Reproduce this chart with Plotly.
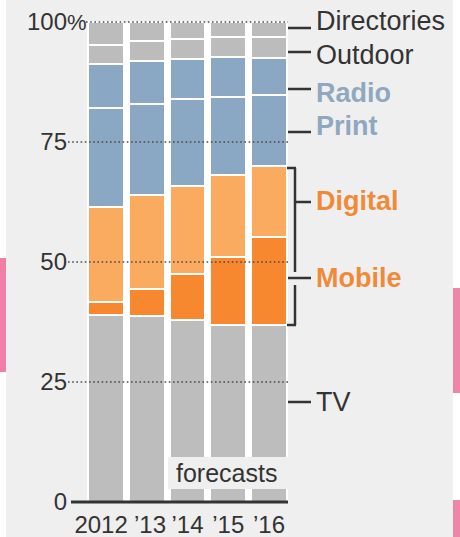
import plotly.graph_objects as go

# ---------------- data ----------------
years = ["2012", "’13", "’14", "’15", "’16"]
tv          = [39.0, 38.8, 37.9, 36.9, 36.9]
mobile      = [2.7, 5.6, 9.7, 14.2, 18.4]
digital     = [19.8, 19.6, 18.3, 17.1, 14.8]
print_ads   = [20.6, 19.0, 18.0, 16.2, 14.7]
radio       = [9.1, 8.8, 8.4, 8.4, 7.8]
outdoor     = [4.1, 4.2, 4.2, 4.0, 4.2]
directories = [4.7, 4.0, 3.5, 3.2, 3.2]
y_ticks = [0, 25, 50, 75, 100]
y_tick_text = ["0", "25", "50", "75", "100"]

series = [
    ("TV", tv, "#bdbdbd"),
    ("Mobile", mobile, "#f7882f"),
    ("Digital", digital, "#fbab60"),
    ("Print", print_ads, "#8aa8c3"),
    ("Radio", radio, "#8aa8c3"),
    ("Outdoor", outdoor, "#bcbcbc"),
    ("Directories", directories, "#bcbcbc"),
]

# ---------------- geometry helpers (pixel -> paper) ----------------
W, H = 460, 537
ML, MR, MT, MB = 73, 170, 10, 35
PW, PH = W - ML - MR, H - MT - MB
def px(x):
    return (x - ML) / PW
def py(y):
    return (H - MB - y) / PH

FONT = "Liberation Sans, Arial, sans-serif"
DARK = "#333333"
BG = "#efefef"

xs = list(range(len(years)))
label_shift = [-0.12, 0.08, 0.0, 0.0, 0.0]   # small horizontal nudges of the year labels
tick_pos = [x + s for x, s in zip(xs, label_shift)]

fig = go.Figure()
for name, vals, col in series:
    fig.add_trace(go.Bar(
        x=xs, y=vals, name=name, width=0.883,
        marker=dict(color=col, line=dict(color="white", width=2)),
        hoverinfo="skip",
    ))

shapes = []
# page edges (white margins with pink stripes)
shapes.append(dict(type="rect", xref="paper", yref="paper", x0=px(0), x1=px(6), y0=py(0), y1=py(H),
                   fillcolor="white", line_width=0, layer="below"))
shapes.append(dict(type="rect", xref="paper", yref="paper", x0=px(0), x1=px(6), y0=py(258), y1=py(372),
                   fillcolor="#ef7fa6", line_width=0, layer="below"))
shapes.append(dict(type="rect", xref="paper", yref="paper", x0=px(453), x1=px(W), y0=py(0), y1=py(H),
                   fillcolor="white", line_width=0, layer="below"))
shapes.append(dict(type="rect", xref="paper", yref="paper", x0=px(453), x1=px(W), y0=py(288), y1=py(393),
                   fillcolor="#ef85a8", line_width=0, layer="below"))
shapes.append(dict(type="rect", xref="paper", yref="paper", x0=px(453), x1=px(W), y0=py(500), y1=py(H),
                   fillcolor="#ef85a8", line_width=0, layer="below"))
# white between bars
shapes.append(dict(type="rect", xref="x", yref="y", x0=-0.4415, x1=4.4415, y0=0, y1=100,
                   fillcolor="white", line_width=0, layer="below"))
# dotted gridlines over bars
for v, x0 in [(100, 86), (75, 68), (50, 68), (25, 68)]:
    shapes.append(dict(type="line", xref="paper", yref="y", x0=px(x0), x1=px(288), y0=v, y1=v,
                       line=dict(color="#4a4a4a", width=1.6, dash="1.6px,2.6px"), layer="above"))
# forecasts box
shapes.append(dict(type="rect", xref="paper", yref="paper", x0=px(168), x1=px(288), y0=py(489), y1=py(457),
                   fillcolor=BG, line_width=0, layer="above"))
# baseline
shapes.append(dict(type="line", xref="paper", yref="paper", x0=px(71), x1=px(288), y0=py(502), y1=py(502),
                   line=dict(color=DARK, width=3), layer="above"))

def seg(x0, y0, x1, y1):
    shapes.append(dict(type="line", xref="paper", yref="paper", x0=px(x0), x1=px(x1), y0=py(y0), y1=py(y1),
                       line=dict(color=DARK, width=2.5), layer="above"))

# leader lines
for ly in [28, 52, 89, 132, 402]:
    seg(288, ly, 311, ly)
# Digital bracket
seg(287, 168, 296, 168)
seg(295, 168, 295, 272)
seg(295, 202, 311, 202)
# Mobile bracket
seg(288, 278, 311, 278)
seg(295, 285, 295, 325)
seg(287, 325, 296, 325)

annotations = []
def label(text, y, color=DARK, bold=False, size=27):
    t = f"<b>{text}</b>" if bold else text
    annotations.append(dict(text=t, xref="paper", yref="paper", x=px(314), y=py(y),
                            xanchor="left", yanchor="middle", showarrow=False,
                            font=dict(family=FONT, size=size, color=color)))

label("Directories", 21)
label("Outdoor", 55)
label("Radio", 93, color="#8fa8c0", bold=True)
label("Print", 126, color="#8fa8c0", bold=True)
label("Digital", 201, color="#f08a38", bold=True)
label("Mobile", 278, color="#f08a38", bold=True)
label("TV", 402)

annotations.append(dict(text="forecasts", xref="paper", yref="paper", x=px(226), y=py(473),
                        xanchor="center", yanchor="middle", showarrow=False,
                        font=dict(family=FONT, size=25, color=DARK)))
annotations.append(dict(text="%", xref="paper", yref="y", x=px(65), y=100,
                        xanchor="left", yanchor="middle", showarrow=False,
                        font=dict(family=FONT, size=22, color=DARK)))

fig.update_layout(
    width=W, height=H,
    margin=dict(l=ML, r=MR, t=MT, b=MB, pad=0),
    paper_bgcolor=BG, plot_bgcolor=BG,
    barmode="stack", showlegend=False,
    shapes=shapes, annotations=annotations,
    font=dict(family=FONT, color=DARK),
    xaxis=dict(range=[-0.8098, 4.5153], tickvals=tick_pos, ticktext=years,
               showgrid=False, zeroline=False, showline=False, ticks="",
               tickangle=0, automargin=False,
               tickfont=dict(family=FONT, size=24, color=DARK), ticklabelstandoff=6,
               fixedrange=True),
    yaxis=dict(range=[0, 102.5], tickvals=y_ticks, ticktext=y_tick_text,
               showgrid=False, zeroline=False, showline=False, ticks="",
               automargin=False,
               tickfont=dict(family=FONT, size=24, color=DARK), ticklabelstandoff=5,
               fixedrange=True),
)

fig.write_html("out.html")
